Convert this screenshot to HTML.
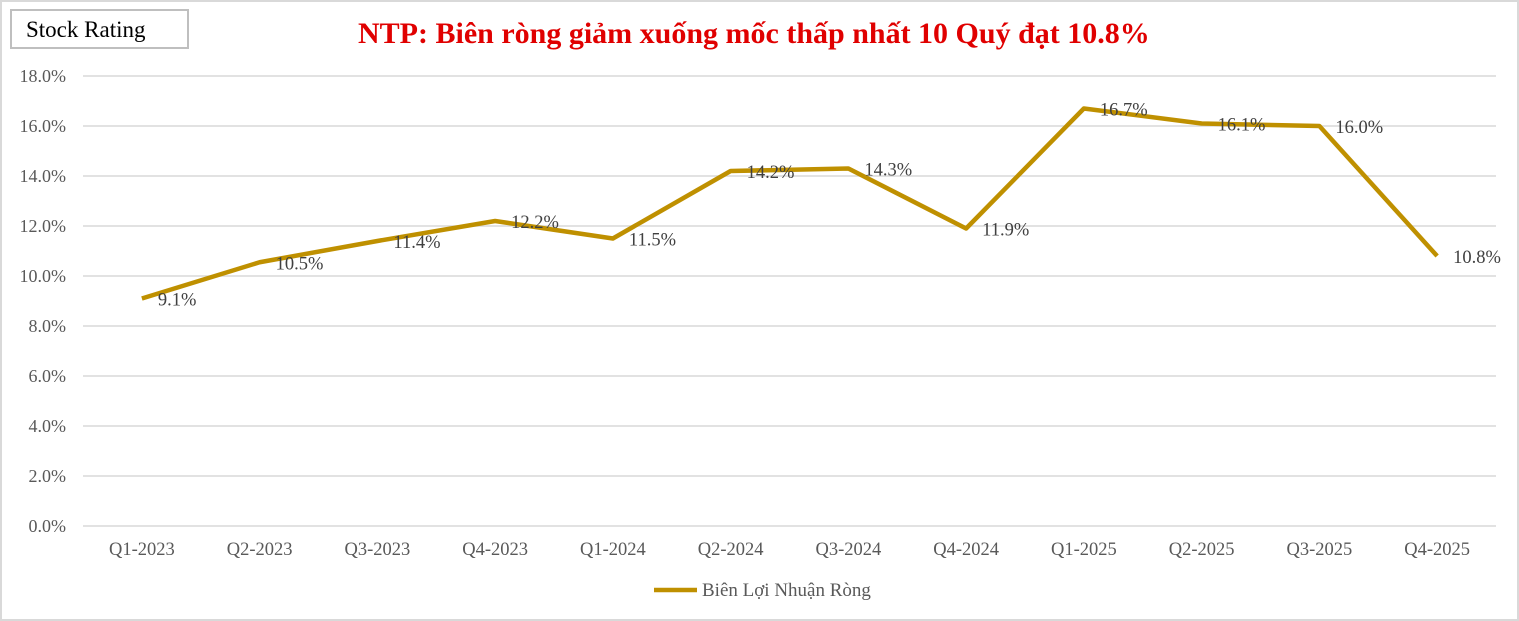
<!DOCTYPE html>
<html><head><meta charset="utf-8"><style>
body{margin:0;background:#fff;}
#wrap{position:relative;width:1519px;height:621px;overflow:hidden;font-family:"Liberation Serif",serif;}
#frame{position:absolute;left:0;top:0;width:1515px;height:617px;border:2px solid #d9d9d9;}
#rating{position:absolute;left:10px;top:9px;border:2px solid #bfbfbf;font-size:23px;line-height:38px;padding-left:14px;box-sizing:border-box;width:179px;height:40px;color:#000;}
#title{position:absolute;left:358px;top:17px;white-space:nowrap;font-size:30px;font-weight:bold;color:#e00000;}
</style></head><body>
<div id="wrap">
<div id="frame"></div>
<div id="rating">Stock Rating</div>
<div id="title">NTP: Biên ròng giảm xuống mốc thấp nhất 10 Quý đạt 10.8%</div>
<svg id="svg" width="1519" height="621" style="position:absolute;left:0;top:0"></svg>
</div>
<script>
const categories=["Q1-2023","Q2-2023","Q3-2023","Q4-2023","Q1-2024","Q2-2024","Q3-2024","Q4-2024","Q1-2025","Q2-2025","Q3-2025","Q4-2025"];
const values=[9.1,10.55,11.4,12.2,11.5,14.2,14.3,11.9,16.7,16.1,16.0,10.8];
const valueLabels=["9.1%","10.5%","11.4%","12.2%","11.5%","14.2%","14.3%","11.9%","16.7%","16.1%","16.0%","10.8%"];
const yTicks=[0,2,4,6,8,10,12,14,16,18];
const NS="http://www.w3.org/2000/svg";
const svgEl=document.getElementById('svg');
const plotLeft=83,plotRight=1496,plotTop=76,plotBottom=526,yMax=18;
const step=(plotRight-plotLeft)/categories.length;
const xs=i=>plotLeft+step*(i+0.5);
const ys=v=>plotBottom-(v/yMax)*(plotBottom-plotTop);
function mk(t,a){const e=document.createElementNS(NS,t);for(const k in a)e.setAttribute(k,a[k]);svgEl.appendChild(e);return e;}
yTicks.forEach(t=>{
 const g=mk('line',{x1:plotLeft,x2:plotRight,y1:ys(t),y2:ys(t),stroke:'#d9d9d9','stroke-width':1.5});
 
 
 const l=mk('text',{x:66,y:ys(t)+6,'text-anchor':'end','font-size':18,fill:'#595959','font-family':'Liberation Serif, serif'});
 l.textContent=t.toFixed(1)+'%';
 
 
});
categories.forEach((c,i)=>{
 const l=mk('text',{x:xs(i),y:555,'text-anchor':'middle','font-size':18.5,fill:'#595959','font-family':'Liberation Serif, serif'});
 l.textContent=c;
 
 
});
const p=mk('polyline',{points:values.map((v,i)=>xs(i)+','+ys(v)).join(' '),fill:'none',stroke:'#bf9000','stroke-width':4.5,'stroke-linejoin':'round'});


values.forEach((v,i)=>{
 const l=mk('text',{x:xs(i)+16,y:ys(v)+7,'font-size':18.5,fill:'#404040','font-family':'Liberation Serif, serif'});
 l.textContent=valueLabels[i];
 
 
});
const ll=mk('line',{x1:654,x2:697,y1:590,y2:590,stroke:'#bf9000','stroke-width':4.5});


const lt=mk('text',{x:702,y:596,'font-size':19,fill:'#595959','font-family':'Liberation Serif, serif'});
lt.textContent='Biên Lợi Nhuận Ròng';


</script>
</body></html>
